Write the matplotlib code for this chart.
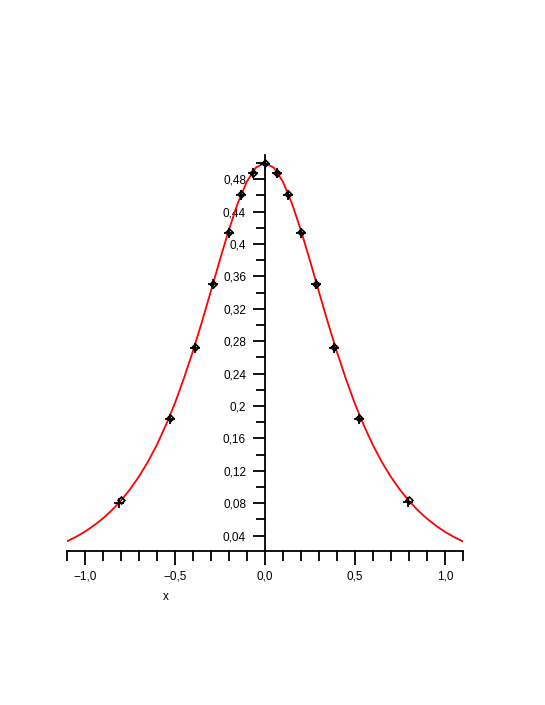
import matplotlib.pyplot as plt
from matplotlib.ticker import FixedLocator, MultipleLocator

plt.rcParams['font.family'] = ['Liberation Sans', 'DejaVu Sans']

# fitted curve, every 0.05
curve_x = [-1.10, -1.05, -1.00, -0.95, -0.90, -0.85, -0.80, -0.75, -0.70, -0.65,
           -0.60, -0.55, -0.50, -0.45, -0.40, -0.35, -0.30, -0.25, -0.20, -0.15,
           -0.10, -0.05, 0.00, 0.05, 0.10, 0.15, 0.20, 0.25, 0.30, 0.35,
           0.40, 0.45, 0.50, 0.55, 0.60, 0.65, 0.70, 0.75, 0.80, 0.85,
           0.90, 0.95, 1.00, 1.05, 1.10]
curve_y = [0.0330, 0.0385, 0.0449, 0.0525, 0.0612, 0.0714, 0.0832, 0.0969, 0.1127, 0.1310,
           0.1520, 0.1763, 0.2031, 0.2338, 0.2672, 0.3034, 0.3414, 0.3800, 0.4172, 0.4504,
           0.4769, 0.4941, 0.5000, 0.4941, 0.4769, 0.4504, 0.4172, 0.3800, 0.3414, 0.3034,
           0.2672, 0.2338, 0.2031, 0.1763, 0.1520, 0.1310, 0.1127, 0.0969, 0.0832, 0.0714,
           0.0612, 0.0525, 0.0449, 0.0385, 0.0330]

# data points (two overlapping series)
diam_x = [-0.80, -0.525, -0.386, -0.286, -0.20, -0.13, -0.065, 0.0,
          0.065, 0.13, 0.20, 0.286, 0.386, 0.525, 0.80]
diam_y = [0.084, 0.185, 0.273, 0.351, 0.415, 0.461, 0.488, 0.500,
          0.488, 0.461, 0.415, 0.351, 0.273, 0.185, 0.084]
cross_x = [-0.812, -0.525, -0.386, -0.286, -0.20, -0.13, -0.065, 0.0,
           0.065, 0.13, 0.20, 0.286, 0.386, 0.525, 0.795]
cross_y = [0.080, 0.184, 0.272, 0.350, 0.414, 0.460, 0.487, 0.499,
           0.487, 0.460, 0.414, 0.350, 0.272, 0.184, 0.081]

xticks = [-1.0, -0.5, 0.0, 0.5, 1.0]
xticklabels = ['\u22121,0', '\u22120,5', '0,0', '0,5', '1,0']
yticks = [0.04, 0.08, 0.12, 0.16, 0.20, 0.24, 0.28, 0.32, 0.36, 0.40, 0.44, 0.48]
yticklabels = ['0,04', '0,08', '0,12', '0,16', '0,2', '0,24', '0,28', '0,32',
               '0,36', '0,4', '0,44', '0,48']

fig = plt.figure(figsize=(5.45, 7.05), dpi=100)
ax = fig.add_axes([0.1226, 0.2191, 0.7266, 0.5617])

ax.plot(curve_x, curve_y, color='red', lw=1.3, zorder=2)
ax.plot(cross_x, cross_y, ls='none', marker='+', ms=7, mew=1.3, color='black', zorder=3)
ax.plot(diam_x, diam_y, ls='none', marker='D', ms=3.5, mew=1.2, mfc='none', mec='black', zorder=4)

ax.set_xlim(-1.1, 1.1)
ax.set_ylim(0.0217, 0.5103)

ax.spines['top'].set_visible(False)
ax.spines['right'].set_visible(False)
ax.spines['left'].set_position(('data', 0))
ax.spines['left'].set_linewidth(1.3)
ax.spines['bottom'].set_linewidth(1.3)

ax.xaxis.set_major_locator(FixedLocator(xticks))
ax.set_xticklabels(xticklabels)
ax.xaxis.set_minor_locator(MultipleLocator(0.1))
ax.yaxis.set_major_locator(FixedLocator(yticks))
ax.set_yticklabels(yticklabels)
ax.yaxis.set_minor_locator(MultipleLocator(0.02))

ax.tick_params(axis='x', which='major', direction='out', length=10, width=1.3,
               pad=4.5, labelsize=8.5)
ax.tick_params(axis='x', which='minor', direction='out', length=7, width=1.3)
ax.tick_params(axis='y', which='major', direction='out', length=8.5, width=1.3,
               pad=5, labelsize=8.5)
ax.tick_params(axis='y', which='minor', direction='out', length=6.5, width=1.3)

fig.text(166 / 545, 1 - 597 / 705, 'x', fontsize=8.5, ha='center', va='center')

fig.savefig('out.png', dpi=100)
